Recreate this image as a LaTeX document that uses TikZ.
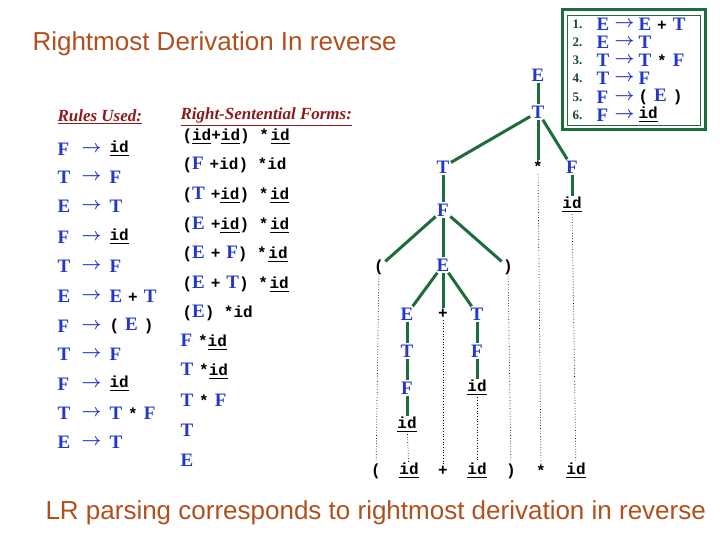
\documentclass[tikz,border=0pt]{standalone}
\usepackage{fontspec}
\usepackage{amsmath}
\setmainfont{Liberation Serif}
\setsansfont{Liberation Sans}
\setmonofont{Liberation Mono}
\definecolor{nt}{HTML}{2438C8}
\definecolor{gr}{HTML}{1E6B3C}
\definecolor{ttl}{HTML}{B0501E}
\definecolor{hdr}{HTML}{8B1A1A}
\newcommand{\V}[1]{{\color{nt}\fontsize{19}{19}\selectfont\bfseries #1}}
\newcommand{\I}{{\ttfamily\bfseries\fontsize{16}{16}\selectfont\underline{id}}}
\newcommand{\Sy}[1]{{\ttfamily\bfseries\fontsize{16}{16}\selectfont #1}}
\newcommand{\Ar}{{\color{nt}\fontsize{17}{17}\selectfont$\boldsymbol{\rightarrow}$}}
\newcommand{\Sp}{\hspace{6pt}}
\begin{document}
\begin{tikzpicture}[x=1pt,y=-1pt,
  every node/.style={inner sep=0pt,outer sep=1.5pt},
  tl/.style={anchor=west},
  edge/.style={draw=gr,line width=3pt},
  dots/.style={draw=black,dotted,line width=0.7pt}]
\useasboundingbox (0,0) rectangle (720,540);
\node[tl,text=ttl,font=\sffamily\fontsize{26}{26}\selectfont] (title) at (31,44) {Rightmost Derivation In reverse};
\node[tl,text=ttl,font=\sffamily\fontsize{26}{26}\selectfont] (foot) at (44,513) {LR parsing corresponds to rightmost derivation in reverse};
% headers
\node[tl,text=hdr,font=\bfseries\itshape\fontsize{17}{17}\selectfont] (h1) at (56,117) {\underline{Rules Used:}};
\node[tl,text=hdr,font=\bfseries\itshape\fontsize{17}{17}\selectfont] (h2) at (179,117) {\underline{Right-Sentential Forms:}};
% rules
\foreach \y/\l/\r [count=\i] in {149/F/\I, 177/T/\V{F}, 206/E/\V{T}, 237/F/\I, 266/T/\V{F}, 296/E/{\V{E}\Sp\Sy{+}\Sp\V{T}}, 326/F/{\Sy{(}\Sp\V{E}\Sp\Sy{)}}, 354/T/\V{F}, 384/F/\I, 413/T/{\V{T}\Sp\Sy{*}\Sp\V{F}}, 442/E/\V{T}}{
  \node[tl] (rl\i) at (56,\y) {\V{\l}};
  \node[tl] (ra\i) at (80,\y) {\Ar};
  \node[tl] (rr\i) at (108,\y) {\r};
}
% forms
\node[tl] (f1) at (181,137) {\Sy{(}\I\Sy{+}\I\Sy{) *}\,\I};
\node[tl] (f2) at (181,165) {\Sy{(}\V{F}\Sp\Sy{+id) *id}};
\node[tl] (f3) at (181,195) {\Sy{(}\V{T}\Sp\Sy{+}\I\Sy{) *}\,\I};
\node[tl] (f4) at (181,225) {\Sy{(}\V{E}\Sp\Sy{+}\I\Sy{) *}\,\I};
\node[tl] (f5) at (181,254) {\Sy{(}\V{E}\Sp\Sy{+}\Sp\V{F}\Sy{) *}\,\I};
\node[tl] (f6) at (181,284) {\Sy{(}\V{E}\Sp\Sy{+}\Sp\V{T}\Sy{) *}\,\I};
\node[tl] (f7) at (181,313) {\Sy{(}\V{E}\Sy{) *id}};
\node[tl] (f8) at (179,342) {\V{F}\Sp\Sy{*}\I};
\node[tl] (f9) at (179,371) {\V{T}\Sp\Sy{*}\I};
\node[tl] (f10) at (179,400) {\V{T}\Sp\Sy{*}\Sp\V{F}};
\node[tl] (f11) at (179,430) {\V{T}};
\node[tl] (f12) at (179,460) {\V{E}};
% grammar box
\draw[gr,line width=3pt] (562,10) rectangle (705,130);
\draw[gr,line width=0.6pt] (567,15) rectangle (700,125);
\foreach \y/\l/\r [count=\i] in {24/E/{\V{E}\Sp\Sy{+}\Sp\V{T}}, 42/E/\V{T}, 60/T/{\V{T}\Sp\Sy{*}\Sp\V{F}}, 78/T/\V{F}, 97/F/{\Sy{(}\Sp\V{E}\Sp\Sy{)}}, 115/F/\I}{
  \node[tl,font=\bfseries\fontsize{13}{13}\selectfont,text=gr!70!black] (gn\i) at (571,\y) {\i.};
  \node[tl] (gl\i) at (595,\y) {\V{\l}};
  \node[tl] (ga\i) at (613,\y) {\Ar};
  \node[tl] (gr\i) at (637,\y) {\r};
}
% tree
\node (E0) at (538,75) {\V{E}};
\node (T0) at (538,112) {\V{T}};
\node (T1) at (443,167) {\V{T}};
\node (st) at (538,167) {\Sy{*}};
\node (F0) at (572,167) {\V{F}};
\node (id0) at (572,205) {\I};
\node (F1) at (443,210) {\V{F}};
\node (lp) at (379,267) {\Sy{(}};
\node (E1) at (443,265) {\V{E}};
\node (rp) at (508,267) {\Sy{)}};
\node (E2) at (407,314) {\V{E}};
\node (pl) at (443,314) {\Sy{+}};
\node (T2) at (477,314) {\V{T}};
\node (T3) at (407,351) {\V{T}};
\node (F2) at (477,351) {\V{F}};
\node (F3) at (407,388) {\V{F}};
\node (id1) at (477,388) {\I};
\node (id2) at (407,425) {\I};
\node (b1) at (376,471) {\Sy{(}};
\node (b2) at (409,471) {\I};
\node (b3) at (443,471) {\Sy{+}};
\node (b4) at (477,471) {\I};
\node (b5) at (511,471) {\Sy{)}};
\node (b6) at (541,471) {\Sy{*}};
\node (b7) at (576,471) {\I};
\foreach \a/\b in {E0/T0,T0/T1,T0/st,T0/F0,F0/id0,T1/F1,F1/lp,F1/E1,F1/rp,E1/E2,E1/pl,E1/T2,E2/T3,T3/F3,F3/id2,T2/F2,F2/id1}
  \draw[edge] (\a) -- (\b);
\foreach \a/\b in {lp/b1,id2/b2,pl/b3,id1/b4,rp/b5,st/b6,id0/b7}
  \draw[dots] (\a) -- (\b);
\end{tikzpicture}
\end{document}
